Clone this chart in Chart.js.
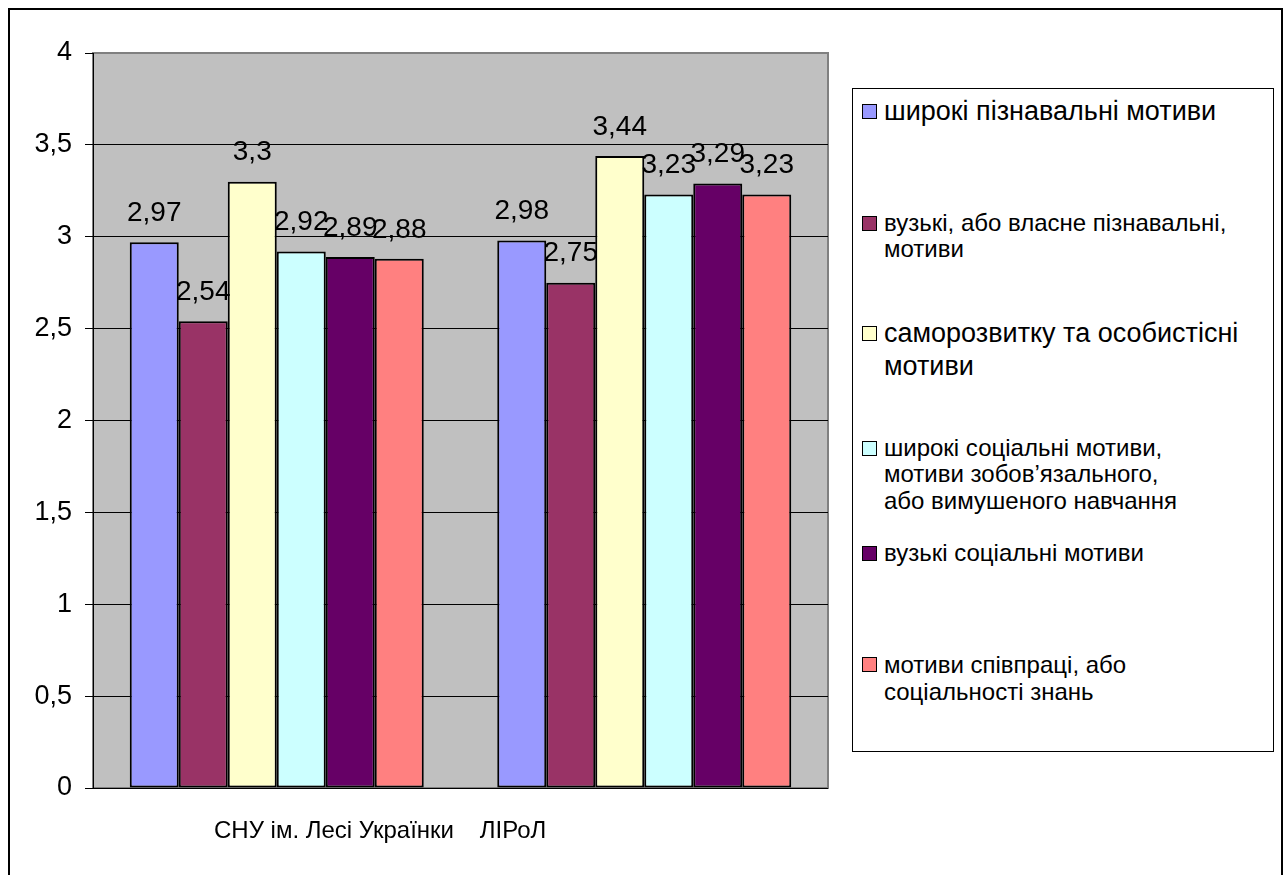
<!DOCTYPE html>
<html lang="uk">
<head>
  <meta charset="UTF-8">
  <title>Мотиви навчання</title>
  <script src="https://cdn.jsdelivr.net/npm/chart.js"></script>
  <style>
    body {
      margin: 0;
      background: #fff;
      font-family: "Liberation Sans", Arial, sans-serif;
    }
    #wrap {
      position: relative;
      width: 1287px;
      height: 875px;
      overflow: hidden;
    }
    #frame {
      position: absolute;
      left: 8px;
      top: 8px;
      width: 1275px;
      height: 900px;
      border: 2px solid #000;
      box-sizing: border-box;
    }
    #myChart {
      position: absolute;
      left: 0;
      top: 0;
    }
    #legend {
      position: absolute;
      left: 852px;
      top: 88px;
      width: 422px;
      height: 664px;
      border: 1px solid #000;
      box-sizing: border-box;
      background: #fff;
    }
    .legend-item {
      position: absolute;
      left: 9px;
      color: #000;
      white-space: nowrap;
    }
    .legend-item .box {
      position: absolute;
      left: 0;
      width: 13px;
      height: 13px;
      border: 1px solid #000;
    }
    .legend-item .text {
      margin-left: 22px;
    }
  </style>
</head>
<body>
<div id="wrap">
  <div id="frame"></div>
  <canvas id="myChart" width="1287" height="875"></canvas>
  <div id="legend"></div>
</div>

<script>
// categories and values
const categories = ['СНУ ім. Лесі Українки', 'ЛІРоЛ'];

const seriesNames = [
  ['широкі пізнавальні мотиви'],
  ['вузькі, або власне пізнавальні,', 'мотиви'],
  ['саморозвитку та особистісні', 'мотиви'],
  ['широкі соціальні мотиви,', 'мотиви зобов’язального,', 'або вимушеного навчання'],
  ['вузькі соціальні мотиви'],
  ['мотиви співпраці, або', 'соціальності знань']
];

const broadCognitive = [2.97, 2.98];
const narrowCognitive = [2.54, 2.75];
const selfDevelopment = [3.3, 3.44];
const broadSocial = [2.92, 3.23];
const narrowSocial = [2.89, 3.29];
const cooperation = [2.88, 3.23];

const yTicks = [0, 0.5, 1, 1.5, 2, 2.5, 3, 3.5, 4];

// look of the bars and the legend
const barColors = ['#9999FF', '#993366', '#FFFFCC', '#CCFFFF', '#660066', '#FF8080'];
const legendCenters = [110, 222, 332, 447, 552, 663];  // y of first line, page px
const legendFontSizes = [27, 24, 27, 24, 24, 24];
const legendLineHeights = [32, 26, 33, 26.5, 26, 27];
const categoryLabelX = [334, 513];

const FONT = '"Liberation Sans", Arial, sans-serif';

function fmt(v) {
  return String(v).replace('.', ',');
}

// grey plot area with a thin grey outline
const plotBackground = {
  id: 'plotBackground',
  beforeDraw(chart) {
    const { ctx, chartArea: a } = chart;
    ctx.save();
    ctx.fillStyle = '#C0C0C0';
    ctx.fillRect(a.left, a.top, a.right - a.left, a.bottom - a.top);
    ctx.strokeStyle = '#808080';
    ctx.lineWidth = 2;
    ctx.strokeRect(a.left, a.top, a.right - a.left, a.bottom - a.top);
    ctx.restore();
  }
};

// value above each bar, category names under the plot
const barValues = {
  id: 'barValues',
  afterDatasetsDraw(chart) {
    const { ctx } = chart;
    ctx.save();
    ctx.fillStyle = '#000';
    ctx.font = '28px ' + FONT;
    ctx.textAlign = 'center';
    ctx.textBaseline = 'middle';
    chart.data.datasets.forEach((ds, i) => {
      chart.getDatasetMeta(i).data.forEach((bar, j) => {
        ctx.fillText(fmt(ds.data[j]), bar.x, bar.y - 29);
      });
    });
    ctx.restore();
  },
  afterDraw(chart) {
    const { ctx, chartArea: a } = chart;
    ctx.save();
    ctx.fillStyle = '#000';
    ctx.font = '24px ' + FONT;
    ctx.textAlign = 'center';
    ctx.textBaseline = 'middle';
    categories.forEach((c, i) => {
      ctx.fillText(c, categoryLabelX[i], a.bottom + 43);
    });
    ctx.restore();
  }
};

const values = [broadCognitive, narrowCognitive, selfDevelopment, broadSocial, narrowSocial, cooperation];

const chart = new Chart(document.getElementById('myChart'), {
  type: 'bar',
  data: {
    labels: categories,
    datasets: values.map((data, i) => ({
      label: seriesNames[i].join(' '),
      lines: seriesNames[i],
      data: data,
      backgroundColor: barColors[i],
      borderColor: '#000',
      borderWidth: 2,
      borderSkipped: false,
      categoryPercentage: 0.8,
      barPercentage: 1.0
    }))
  },
  options: {
    responsive: false,
    animation: false,
    layout: {
      padding: { left: 0, top: 53, right: 459, bottom: 87 }
    },
    plugins: {
      legend: { display: false },
      tooltip: { enabled: false }
    },
    scales: {
      x: {
        display: false
      },
      y: {
        min: 0,
        max: 4,
        afterFit(scale) { scale.width = 93; },
        afterBuildTicks(scale) { scale.ticks = yTicks.map(v => ({ value: v })); },
        border: { display: true, color: '#000', width: 1 },
        grid: {
          color: c => (c.tick && c.tick.value === 4) ? '#808080' : '#000',
          tickColor: '#000',
          tickLength: 8,
          lineWidth: 1
        },
        ticks: {
          padding: 13,
          color: '#000',
          font: { family: FONT, size: 27 },
          callback: v => fmt(v)
        }
      }
    }
  },
  plugins: [plotBackground, barValues]
});

// legend built from the chart's datasets
const legendEl = document.getElementById('legend');
chart.data.datasets.forEach((ds, i) => {
  const lh = legendLineHeights[i];
  const item = document.createElement('div');
  item.className = 'legend-item';
  item.style.top = (legendCenters[i] - 88 - lh / 2) + 'px';
  item.style.fontSize = legendFontSizes[i] + 'px';
  item.style.lineHeight = lh + 'px';
  const box = document.createElement('span');
  box.className = 'box';
  box.style.background = ds.backgroundColor;
  box.style.top = ((lh - 15) / 2) + 'px';
  const text = document.createElement('div');
  text.className = 'text';
  ds.lines.forEach(line => {
    const row = document.createElement('div');
    row.textContent = line;
    text.appendChild(row);
  });
  item.appendChild(box);
  item.appendChild(text);
  legendEl.appendChild(item);
});
</script>
</body>
</html>
